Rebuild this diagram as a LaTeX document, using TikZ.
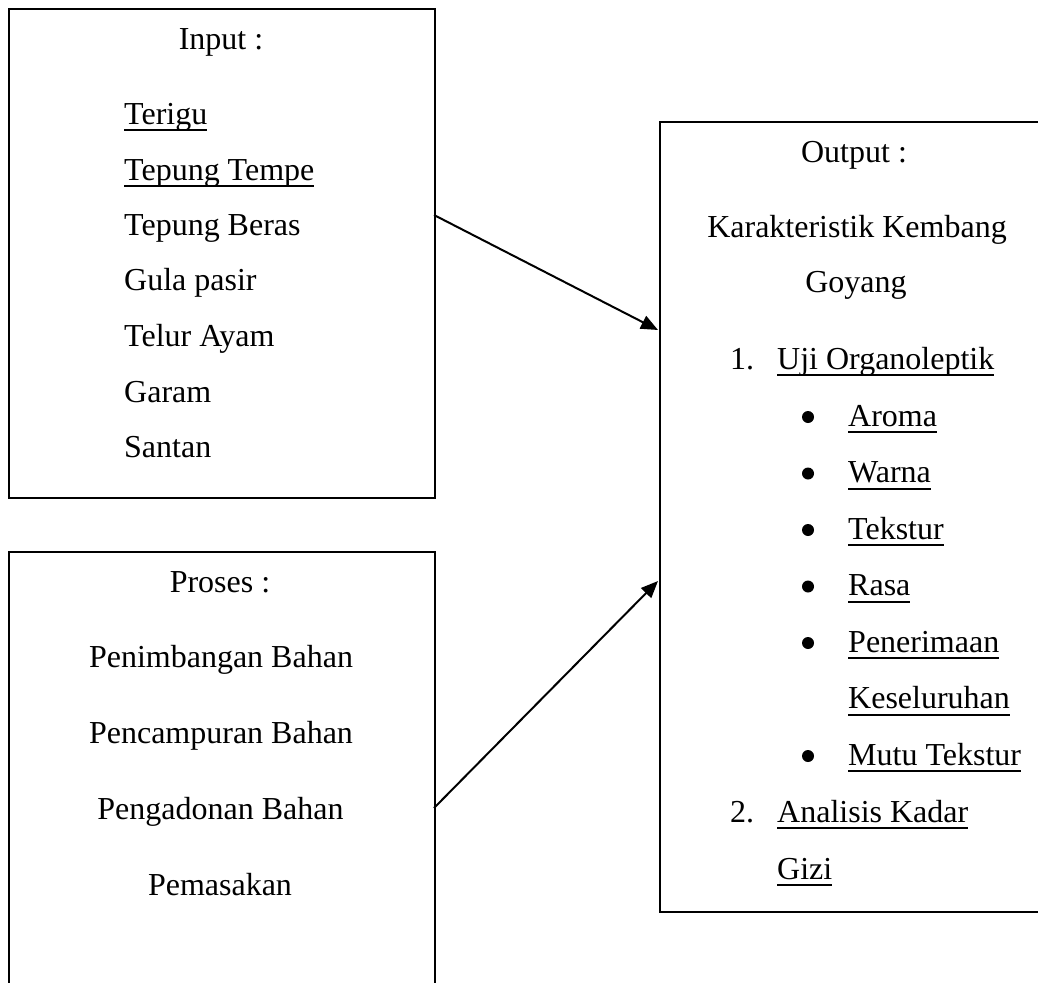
\documentclass[tikz,border=0pt]{standalone}
\usepackage{fontspec}
\setmainfont{Liberation Serif}
\usetikzlibrary{arrows.meta}
\newsavebox\ulbox
\newcommand\ulin[1]{\sbox\ulbox{#1}\rlap{\rule[-7.3pt]{\wd\ulbox}{2pt}}\usebox\ulbox}
\begin{document}
\begin{tikzpicture}[x=1pt,y=-1pt,
  font=\fontsize{32}{38}\selectfont,
  box/.style={draw, line width=2pt, rectangle, inner sep=0pt, anchor=north west},
  txt/.style={inner sep=0pt, anchor=base west},
  ctxt/.style={inner sep=0pt, anchor=base},
  arr/.style={line width=2pt, -{Triangle[length=17pt,width=14pt]}},
  bul/.style={fill=black}]
\useasboundingbox (0,0) rectangle (1038,982);
\clip (0,0) rectangle (1038,982);
% boxes
\node[box, minimum width=426pt, minimum height=489pt] (inbox) at (8,8) {};
\node[box, minimum width=426pt, minimum height=470pt] (prbox) at (8,551) {};
\node[box, minimum width=420pt, minimum height=790pt] (outbox) at (659,121) {};
% input text
\node[ctxt] (inlbl) at (221,50) {Input :};
\node[txt] (in1) at (124,124) {\ulin{Terigu}};
\node[txt] (in2) at (124,180) {\ulin{Tepung Tempe}};
\node[txt] (in3) at (124,235) {Tepung Beras};
\node[txt] (in4) at (124,290) {Gula pasir};
\node[txt] (in5) at (124,346) {Telur Ayam};
\node[txt] (in6) at (124,402) {Garam};
\node[txt] (in7) at (124,457) {Santan};
% proses text
\node[ctxt] (prlbl) at (220,592) {Proses :};
\node[ctxt] (pr1) at (221,667) {Penimbangan Bahan};
\node[ctxt] (pr2) at (221,743) {Pencampuran Bahan};
\node[ctxt] (pr3) at (220.5,819) {Pengadonan Bahan};
\node[ctxt] (pr4) at (220,895) {Pemasakan};
% output text
\node[ctxt] (outlbl) at (854,162) {Output :};
\node[ctxt] (out1) at (857,237) {Karakteristik Kembang};
\node[ctxt] (out2) at (856,292) {Goyang};
\node[txt] (n1) at (730,369) {1.};
\node[txt] (o1) at (777,369) {\ulin{Uji Organoleptik}};
\node[txt] (o2) at (848,426) {\ulin{Aroma}};
\node[txt] (o3) at (848,482.5) {\ulin{Warna}};
\node[txt] (o4) at (848,539) {\ulin{Tekstur}};
\node[txt] (o5) at (848,595.5) {\ulin{Rasa}};
\node[txt] (o6) at (848,652) {\ulin{Penerimaan}};
\node[txt] (o7) at (848,708.5) {\ulin{Keseluruhan}};
\node[txt] (o8) at (848,765) {\ulin{Mutu Tekstur}};
\node[txt] (n2) at (730,822) {2.};
\node[txt] (o9) at (777,822) {\ulin{Analisis Kadar}};
\node[txt] (o10) at (777,879) {\ulin{Gizi}};
% bullets
\foreach \yy in {426,482.5,539,595.5,652,765}
  \fill[bul] (808,\yy-9) circle (6pt);
% connectors
\coordinate (a1s) at (434,215);
\coordinate (a1e) at (658,330);
\coordinate (a2s) at (434,808);
\coordinate (a2e) at (658,581);
\draw[arr] (a1s) -- (a1e);
\draw[arr] (a2s) -- (a2e);
\end{tikzpicture}
\end{document}
